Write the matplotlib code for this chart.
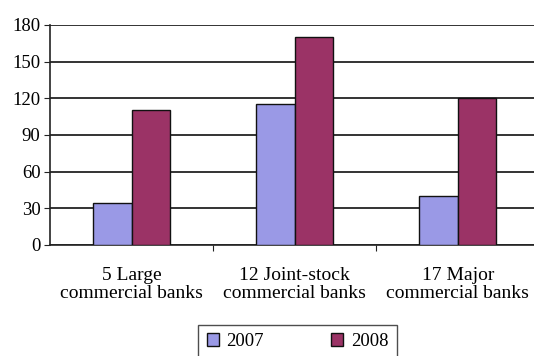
import matplotlib
matplotlib.use("Agg")
import matplotlib.pyplot as plt
import numpy as np

# loan amounts by bank group
categories = ["5 Large\ncommercial banks",
              "12 Joint-stock\ncommercial banks",
              "17 Major\ncommercial banks"]
values_2007 = [34, 115, 40]
values_2008 = [110, 170, 120]
years = ["2007", "2008"]
yticks = [0, 30, 60, 90, 120, 150, 180]

plt.rcParams['font.family'] = ['Liberation Serif', 'DejaVu Serif']

fig = plt.figure(figsize=(5.34, 3.56), dpi=100)
ax = fig.add_axes([0.094, 0.312, 0.916, 0.618])

x = np.arange(len(categories))
w = 0.235
ax.bar(x - w / 2, values_2007, w, color="#9a99e6", edgecolor="#111111",
       linewidth=1.0, label=years[0], zorder=3)
ax.bar(x + w / 2, values_2008, w, color="#9b3366", edgecolor="#111111",
       linewidth=1.0, label=years[1], zorder=3)

ax.set_ylim(0, 180)
ax.set_yticks(yticks)
ax.set_yticklabels([str(v) for v in yticks], fontsize=13.5)
ax.yaxis.grid(True, color="#333333", linewidth=1.4, zorder=0)
ax.set_xlim(-0.5, 2.5)

# category boundary ticks, labels centred under each group
ax.set_xticks([0.5, 1.5])
ax.set_xticklabels([])
ax.set_xticks(x, minor=True)
ax.set_xticklabels(categories, minor=True, fontsize=14, linespacing=1.1)
ax.tick_params(axis="x", which="minor", length=0, pad=16)
ax.tick_params(axis="x", which="major", length=4, direction="out", color="#222222")
ax.tick_params(axis="y", length=4, color="#222222", pad=3)

for side in ["top", "right"]:
    ax.spines[side].set_visible(False)
ax.spines["left"].set_color("#222222")
ax.spines["bottom"].set_color("#222222")
ax.spines["left"].set_linewidth(1.2)
ax.spines["bottom"].set_linewidth(1.2)

leg = fig.legend(loc="upper center", bbox_to_anchor=(0.557, 0.082 + 0.022), ncol=2,
                 fontsize=13.5, frameon=True, fancybox=False, edgecolor="#222222",
                 handlelength=0.65, handleheight=0.65, columnspacing=3.6,
                 handletextpad=0.4, borderpad=0.45, borderaxespad=0.3)
leg.get_frame().set_linewidth(1.0)

fig.savefig("out.png", dpi=100)
